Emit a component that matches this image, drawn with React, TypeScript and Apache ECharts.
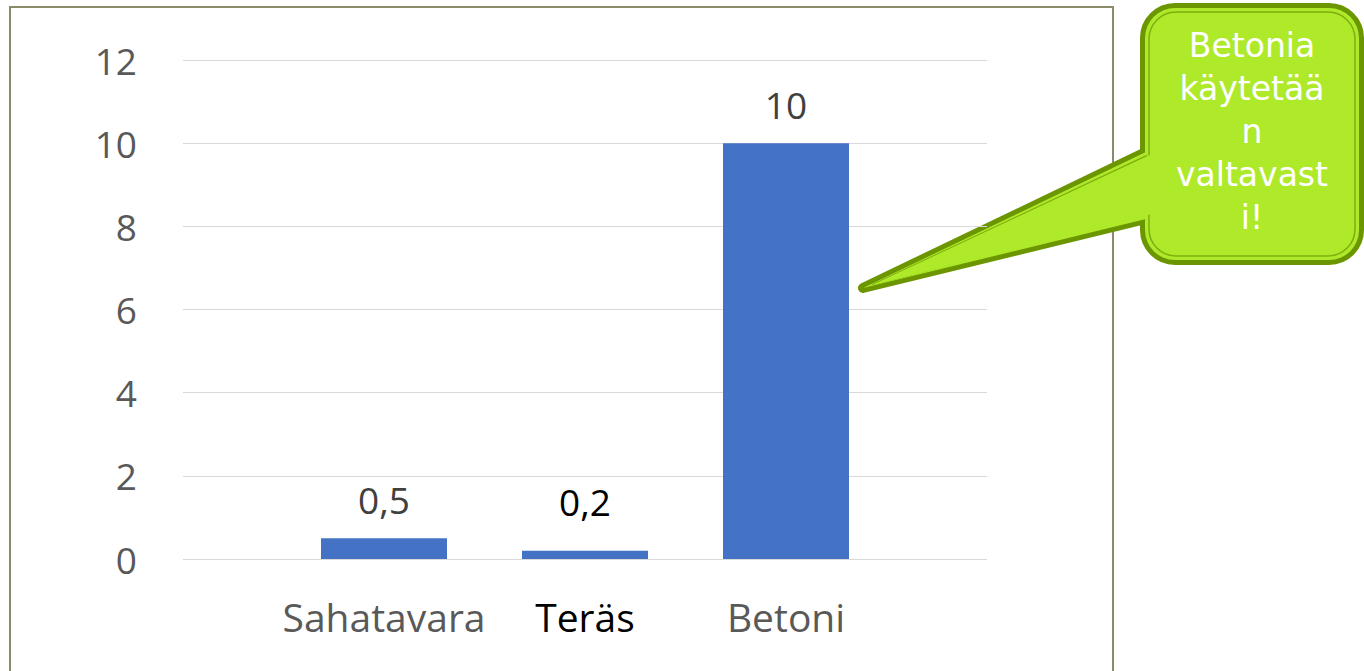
import React, { useEffect, useRef } from "react";
import * as echarts from "echarts";

const categories = ["Sahatavara", "Teräs", "Betoni"];
const values = [0.5, 0.2, 10];
const labelColors = ["#595959", "#000000", "#595959"];
const valueLabelColors = ["#404040", "#000000", "#404040"];
const valueLabelDistances = [20, 31, 20];
const calloutLines = ["Betonia", "käytetää", "n", "valtavast", "i!"];

export default function App() {
  const ref = useRef<HTMLDivElement>(null);
  useEffect(() => {
    if (!ref.current) return;
    const chart = echarts.init(ref.current, null, { renderer: "svg" });
    const cats = ["", ...categories, ""];
    const data: any[] = [
      "-",
      ...values.map((v, i) => ({
        value: v,
        label: { color: valueLabelColors[i], distance: valueLabelDistances[i] },
      })),
      "-",
    ];
    const font = "'Open Sans', 'Noto Sans', sans-serif";
    const dark = "#6b9600";
    const lime = "#aee92a";
    const outer = [
      [1150, 150],
      [863, 288],
      [1150, 218],
    ];
    chart.setOption({
      animation: false,
      grid: { left: 183, right: 377, top: 60, bottom: 112 },
      xAxis: {
        type: "category",
        data: cats,
        boundaryGap: false,
        axisLine: { show: false },
        axisTick: { show: false },
        splitLine: { show: false },
        axisLabel: {
          interval: 0,
          fontFamily: font,
          fontSize: 39,
          margin: 38,
          color: (_v: any, i: number) => (i >= 1 && i <= 3 ? labelColors[i - 1] : "#595959"),
        },
      },
      yAxis: {
        type: "value",
        min: 0,
        max: 12,
        interval: 2,
        axisLine: { show: false },
        axisTick: { show: false },
        splitLine: { lineStyle: { color: "#d9d9d9", width: 1 } },
        axisLabel: { fontFamily: font, fontSize: 37, color: "#595959", margin: 46 },
      },
      series: [
        {
          type: "bar",
          data,
          barWidth: 126,
          itemStyle: { color: "#4472c4" },
          label: {
            show: true,
            position: "top",
            distance: 20,
            fontFamily: font,
            fontSize: 37,
            formatter: (p: any) => String(p.value).replace(".", ","),
          },
        },
      ],
      graphic: [
        {
          type: "rect",
          z: 0,
          shape: { x: 10, y: 7, width: 1103, height: 720 },
          style: { fill: "none", stroke: "#8b8b6b", lineWidth: 2 },
          silent: true,
        },
        {
          type: "group",
          z: 100,
          children: [
            {
              type: "polygon",
              shape: { points: outer },
              style: { fill: dark, stroke: dark, lineWidth: 10, lineJoin: "round" },
            },
            {
              type: "rect",
              shape: { x: 1145, y: 8, width: 214, height: 252, r: 30 },
              style: { fill: dark, stroke: dark, lineWidth: 10 },
            },
            {
              type: "polygon",
              shape: { points: outer },
              style: { fill: lime, stroke: "none" },
            },
            {
              type: "rect",
              shape: { x: 1145, y: 8, width: 214, height: 252, r: 30 },
              style: { fill: lime, stroke: "none" },
            },
            {
              type: "rect",
              shape: { x: 1149, y: 12, width: 206, height: 244, r: 27 },
              style: { fill: "none", stroke: "#7fae10", lineWidth: 1.5 },
            },
            {
              type: "polygon",
              shape: {
                points: [
                  [1146, 156],
                  [872, 285],
                  [1146, 213],
                ],
              },
              style: { fill: "none", stroke: "#7fae10", lineWidth: 1.5 },
            },
            {
              type: "polygon",
              shape: {
                points: [
                  [1152, 154],
                  [870, 286],
                  [1152, 214],
                ],
              },
              style: { fill: lime, stroke: "none" },
            },
            {
              type: "text",
              x: 1252,
              y: 131,
              style: {
                text: calloutLines.join("\n"),
                fill: "#ffffff",
                font: "33px 'DejaVu Sans', sans-serif",
                lineHeight: 43,
                align: "center",
                verticalAlign: "middle",
              },
            },
          ],
        },
      ],
    });
    return () => chart.dispose();
  }, []);
  return (
    <div
      ref={ref}
      style={{ position: "fixed", left: 0, top: 0, width: 1364, height: 671, background: "#fff" }}
    />
  );
}
